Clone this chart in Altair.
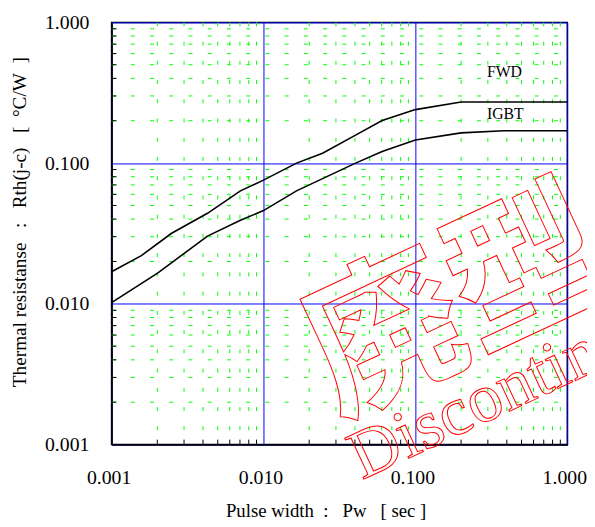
import altair as alt
import pandas as pd

# ---- data ----
fwd_x = [0.001, 0.00157, 0.00247, 0.00428, 0.00705, 0.01, 0.0165, 0.0245, 0.0404, 0.0604, 0.1, 0.2, 1.0]
fwd_y = [0.0169, 0.022, 0.0316, 0.044, 0.0635, 0.0757, 0.1, 0.1175, 0.158, 0.201, 0.240, 0.272, 0.272]
igbt_x = [0.001, 0.00202, 0.00428, 0.00705, 0.01, 0.0165, 0.0404, 0.0604, 0.1, 0.2, 0.383, 1.0]
igbt_y = [0.0102, 0.0166, 0.0303, 0.0392, 0.046, 0.0635, 0.1, 0.121, 0.146, 0.164, 0.170, 0.170]

decades = [0.001, 0.01, 0.1, 1.0]
minor_vals = [m * d for d in [0.001, 0.01, 0.1] for m in range(2, 10)]

series_names = ["FWD", "IGBT"]
series_label_x = [0.296, 0.296]
series_label_y = [0.446, 0.223]

wm_cjk_text = ["廃型"]
wm_cjk_x = [0.192]
wm_cjk_y = [0.0094]
wm_en_text = ["Discontinued"]
wm_en_x = [0.0445]
wm_en_y = [0.00056]

W, H = 462, 428
FONT = "Liberation Serif"
NB = "\u00a0"

x_title = f"Pulse width{NB}{NB}:{NB}{NB}{NB}Pw{NB}{NB}{NB}[{NB}sec{NB}]"
y_title = f"Thermal resistanse{NB}{NB}{NB}:{NB}{NB}{NB}Rth(j-c){NB}{NB}{NB}[{NB}{NB}°C/W{NB}{NB}]"

curves = pd.DataFrame(
    {"x": fwd_x + igbt_x,
     "y": fwd_y + igbt_y,
     "series": ["FWD"] * len(fwd_x) + ["IGBT"] * len(igbt_x)}
)
minor_df = pd.DataFrame({"x": minor_vals, "y": minor_vals})
labels_df = pd.DataFrame({"name": series_names, "x": series_label_x, "y": series_label_y})
cjk_df = pd.DataFrame({"t": wm_cjk_text, "x": wm_cjk_x, "y": wm_cjk_y})
en_df = pd.DataFrame({"t": wm_en_text, "x": wm_en_x, "y": wm_en_y})

xscale = alt.Scale(type="log", domain=[0.001, 1.0], nice=False)
yscale = alt.Scale(type="log", domain=[0.001, 1.0], nice=False)

common = dict(values=decades, format=".3f", grid=True, gridColor="#0000ff", gridWidth=1,
              gridOpacity=1, ticks=False, tickSize=0, labelFlush=False,
              labelFont=FONT, labelFontSize=20, labelColor="black",
              titleFont=FONT, titleColor="black", titleFontWeight="normal",
              domainColor="black", domainWidth=1.5)

x_axis = alt.Axis(title=x_title, labelPadding=23, labelOffset=-3, titlePadding=15,
                  titleFontSize=19, titleAnchor="middle", titleX=217, **common)
y_axis = alt.Axis(title=y_title, labelPadding=23, titlePadding=15,
                  titleFontSize=19.5, titleAnchor="middle", titleY=202, **common)


def X(field="x"):
    return alt.X(f"{field}:Q", scale=xscale, axis=x_axis)


def Y(field="y"):
    return alt.Y(f"{field}:Q", scale=yscale, axis=y_axis)


dash = [4, 15.5]
vminor = alt.Chart(minor_df).mark_rule(color="#00ff00", strokeWidth=1, strokeDash=dash).encode(
    x=X(), y=alt.value(0), y2=alt.value(H))
hminor = alt.Chart(minor_df).mark_rule(color="#00ff00", strokeWidth=1, strokeDash=dash).encode(
    y=Y(), x=alt.value(0), x2=alt.value(W))

lticks = alt.Chart(minor_df).mark_rule(color="black", strokeWidth=1).encode(
    y=Y(), x=alt.value(0), x2=alt.value(5))
bticks = alt.Chart(minor_df).mark_rule(color="black", strokeWidth=1).encode(
    x=X(), y=alt.value(H), y2=alt.value(H - 5))

lines = alt.Chart(curves).mark_line(color="black", strokeWidth=1.6).encode(
    x=X(), y=Y(), detail="series:N")

names = alt.Chart(labels_df).mark_text(font=FONT, fontSize=16, align="left", baseline="middle",
                                      color="black").encode(x=X(), y=Y(), text="name:N")

cjk = alt.Chart(cjk_df).mark_text(font="Noto Sans CJK JP", fontSize=158, fontWeight="bold",
                                 align="center", baseline="middle", angle=335,
                                 fillOpacity=0, stroke="#ff0000", strokeWidth=1).encode(
    x=X(), y=Y(), text="t:N")

en = alt.Chart(en_df).mark_text(font=FONT, fontSize=70, align="left", baseline="alphabetic",
                               angle=335, fillOpacity=0, stroke="#ff0000", strokeWidth=1).encode(
    x=X(), y=Y(), text="t:N")

chart = alt.layer(vminor, hminor, lticks, bticks, lines, names, cjk, en).properties(
    width=W, height=H,
    background="white",
    autosize=alt.AutoSizeParams(type="none"),
    padding={"left": 105, "top": 11, "right": 20, "bottom": 80},
).configure_view(stroke="black", strokeWidth=1.5)

chart.save("out.html", embed_options={"renderer": "svg", "actions": False})
